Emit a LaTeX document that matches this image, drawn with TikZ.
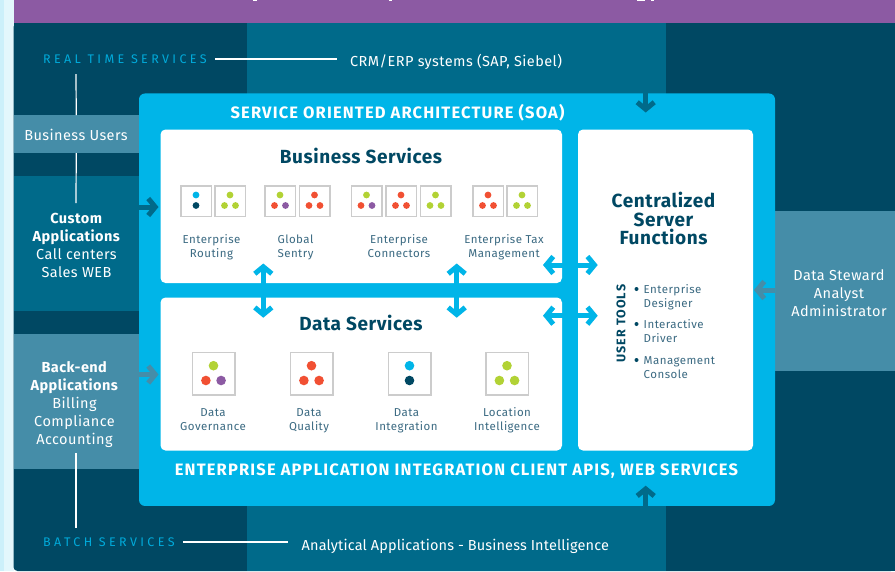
\documentclass[tikz,border=0pt]{standalone}
\usepackage{fontspec}
\usepackage{xcolor}
\usetikzlibrary{positioning}
\usetikzlibrary{arrows.meta}
\setmainfont{Fira Sans}
\definecolor{navy}{HTML}{004863}
\definecolor{teal}{HTML}{006A8A}
\definecolor{pale}{HTML}{458DA8}
\definecolor{sky}{HTML}{00B5E8}
\definecolor{plum}{HTML}{8C5AA3}
\definecolor{lime}{HTML}{B2D235}
\definecolor{coral}{HTML}{F15033}
\definecolor{frame}{HTML}{CCCCCC}
\definecolor{slate}{HTML}{3B6A82}
\tikzset{
    band/.style = {inner sep=0pt, outer sep=0pt, fill=#1},
    panel/.style = {inner sep=0pt, outer sep=0pt, fill=white, rounded corners=5pt},
    iconbox/.style = {inner sep=0pt, outer sep=0pt, draw=frame, fill=white, line width=1.5pt, minimum size=#1},
    dot/.style = {circle, inner sep=0pt, fill=#1},
    caption/.style = {align=center, font=\fontsize{11.5}{14}\selectfont\addfontfeature{LetterSpace=4}, text=slate, inner sep=0pt},
    side/.style = {align=center, font=\fontsize{14.5}{18}\selectfont\addfontfeature{LetterSpace=3}, text=white, inner sep=0pt},
    heading/.style = {font=\fontsize{16.5}{19}\selectfont\bfseries\addfontfeature{LetterSpace=7}, text=white, inner sep=0pt},
    paneltitle/.style = {font=\fontsize{19}{18.5}\selectfont\bfseries\addfontfeature{LetterSpace=3}, text=navy, align=center, inner sep=0pt},
    tier/.style = {anchor=west, inner sep=0pt, text=sky!85!teal, font=\fontsize{12.5}{14}\selectfont\addfontfeature{LetterSpace=27}},
    wire/.style = {draw=white, line width=1.2pt},
    flow/.style = {line width=5pt, draw=#1, -{Straight Barb[length=7pt,width=17pt]}},
    flowboth/.style = {line width=5pt, draw=sky, {Straight Barb[length=7pt,width=17pt]}-{Straight Barb[length=7pt,width=17pt]}}
}
% small icon: name, centre x, colours
\newcommand{\trismall}[5]{
    \node [iconbox=30.5pt] (#1) at (#2, 201) {};
    \node [dot=#3, minimum size=6.8pt] (#1a) at (#2, 195) {};
    \node [dot=#4, minimum size=6.8pt] (#1b) at (#2-5.5, 205.5) {};
    \node [dot=#5, minimum size=6.8pt] (#1c) at (#2+5.5, 205.5) {};
}
% large icon
\newcommand{\trilarge}[5]{
    \node [iconbox=42.5pt] (#1) at (#2, 373.7) {};
    \node [dot=#3, minimum size=9.6pt] (#1a) at (#2, 365.7) {};
    \node [dot=#4, minimum size=9.6pt] (#1b) at (#2-7.6, 380.5) {};
    \node [dot=#5, minimum size=9.6pt] (#1c) at (#2+7.6, 380.5) {};
}
\begin{document}
\begin{tikzpicture}[x=1pt, y=-1pt]
    \useasboundingbox (0, 0) rectangle (895, 571);
    % page and bands
    \fill [color=white] (0, 0) rectangle (895, 571);
    \fill [color=sky!20] (0, 0) rectangle (3.5, 571);
    \fill [color=sky!11] (3.5, 0) rectangle (13.5, 571);
    \fill [color=navy, rounded corners=4pt] (13.5, 23) rectangle (895, 571);
    \fill [color=navy] (13.5, 23) rectangle (895, 560);
    \fill [color=navy] (100, 500) rectangle (895, 571);
    \fill [color=plum] (13.5, 0) rectangle (895, 23);
    \fill [color=white] (253, 0) rectangle (257, 1);
    \fill [color=white] (388.5, 0) rectangle (392, 1);
    \fill [color=white] (637, 0) rectangle (644.5, 1.2);
    \fill [color=white] (651, 0) rectangle (654, 1.2);
    \fill [color=teal] (247, 23) rectangle (666, 571);
    \node [band=teal, minimum width=125.5pt, minimum height=135pt] (custom) at (76.25, 243.5) {};
    \node [band=pale, minimum width=125.5pt, minimum height=38pt] (users) at (76.25, 134) {};
    \node [band=pale, minimum width=125.5pt, minimum height=135pt] (backend) at (76.25, 401.5) {};
    \node [band=pale, minimum width=120pt, minimum height=160pt] (steward) at (835, 291) {};
    % main panels
    \node [band=sky, rounded corners=6pt, minimum width=636pt, minimum height=412.5pt] (soa) at (457, 299.7) {};
    \node [panel, minimum width=401.5pt, minimum height=153.5pt] (business) at (361.25, 206.25) {};
    \node [panel, minimum width=401.5pt, minimum height=153pt] (data) at (361.25, 374) {};
    \node [panel, minimum width=175pt, minimum height=321pt] (central) at (665.5, 290) {};
    % side texts
    \node [side] (userstext) at (76, 135) {Business Users};
    \node [side] (customtext) at (76.5, 245) {\textbf{Custom}\\\textbf{Applications}\\Call centers\\Sales WEB};
    \node [side] (backendtext) at (74.5, 405) {\textbf{Back-end}\\\textbf{Applications}\\Billing\\Compliance\\Accounting};
    \node [side] (stewardtext) at (839, 293) {Data Steward\\Analyst\\Administrator};
    \node [side, anchor=west] (crm) at (350, 62) {CRM/ERP systems (SAP, Siebel)};
    \node [side, anchor=west, font=\fontsize{14.5}{18}\selectfont\addfontfeature{LetterSpace=1}] (analytical) at (301.5, 546.5) {Analytical Applications - Business Intelligence};
    \node [tier] (realtime) at (43, 59) {REAL TIME SERVICES};
    \node [tier] (batch) at (43, 542) {BATCH SERVICES};
    % panel titles
    \node [heading] (soatitle) at (397.5, 112.5) {SERVICE ORIENTED ARCHITECTURE (SOA)};
    \node [heading] (eaititle) at (456.5, 471) {ENTERPRISE APPLICATION INTEGRATION CLIENT APIS, WEB SERVICES};
    \node [paneltitle] (bustitle) at (361, 155.8) {Business Services};
    \node [paneltitle] (datatitle) at (361, 322.8) {Data Services};
    \node [paneltitle] (centraltitle) at (663.5, 218.5) {Centralized\\Server\\Functions};
    % business icons
    \node [iconbox=30.5pt] (routingbox) at (196, 201) {};
    \node [dot=sky, minimum size=6.8pt] (routinga) at (196, 195) {};
    \node [dot=navy, minimum size=6.8pt] (routingb) at (196, 205.5) {};
    \trismall{routingtwo}{230}{lime}{lime}{lime}
    \trismall{sentryone}{280}{lime}{coral}{plum}
    \trismall{sentrytwo}{314.5}{coral}{coral}{coral}
    \trismall{connone}{366.5}{lime}{coral}{plum}
    \trismall{conntwo}{401}{coral}{coral}{coral}
    \trismall{connthree}{435.5}{lime}{lime}{lime}
    \trismall{taxone}{488}{coral}{coral}{coral}
    \trismall{taxtwo}{522}{lime}{lime}{lime}
    \node [caption] (routingcap) at (211.5, 247) {Enterprise\\Routing};
    \node [caption] (sentrycap) at (295.5, 247) {Global\\Sentry};
    \node [caption] (conncap) at (399, 246) {Enterprise\\Connectors};
    \node [caption] (taxcap) at (504, 247) {Enterprise Tax\\Management};
    % data icons
    \trilarge{governance}{213.5}{lime}{coral}{plum}
    \trilarge{quality}{311.5}{coral}{coral}{coral}
    \node [iconbox=42.5pt] (integration) at (409.5, 373.7) {};
    \node [dot=sky, minimum size=9.6pt] (integrationa) at (409.5, 365.7) {};
    \node [dot=navy, minimum size=9.6pt] (integrationb) at (409.5, 380.5) {};
    \trilarge{location}{507}{lime}{lime}{lime}
    \node [caption] (govcap) at (213, 420) {Data\\Governance};
    \node [caption] (qualcap) at (309, 420.5) {Data\\Quality};
    \node [caption] (intcap) at (406.5, 420.5) {Data\\Integration};
    \node [caption] (loccap) at (507, 420) {Location\\Intelligence};
    % user tools
    \node [font=\fontsize{12.5}{14}\selectfont\bfseries\addfontfeature{LetterSpace=8}, text=navy, rotate=90, inner sep=0pt] (usertools) at (621, 323.5) {USER TOOLS};
    \node [caption, align=left, anchor=north west] (tools) at (643.5, 284) {Enterprise\\Designer\\[7.5pt]Interactive\\Driver\\[7.5pt]Management\\Console};
    \node [dot=navy, minimum size=4pt] (bulleta) at (636.5, 289) {};
    \node [dot=navy, minimum size=4pt] (bulletb) at (636.5, 324) {};
    \node [dot=navy, minimum size=4pt] (bulletc) at (636.5, 360) {};
    % connector ends
    \coordinate (rtdrop) at (76, 74);
    \coordinate (customdrop) at (76, 203);
    \coordinate (backdrop) at (76, 453);
    \coordinate (batchrise) at (76, 527.7);
    \coordinate (customtip) at (158.5, 207);
    \coordinate (backtip) at (158.5, 374.5);
    \coordinate (stewardtip) at (754, 290);
    \coordinate (toptip) at (645.7, 112.5);
    \coordinate (toptail) at (645.7, 93);
    \coordinate (bottomtip) at (645.7, 485.7);
    \coordinate (bottomtail) at (645.7, 506);
    \coordinate (vonea) at (263.3, 263.5);
    \coordinate (voneb) at (263.3, 317.7);
    \coordinate (vtwoa) at (456.7, 263.5);
    \coordinate (vtwob) at (456.7, 317.7);
    \coordinate (hup) at (543, 265);
    \coordinate (hupb) at (597.7, 265);
    \coordinate (hlow) at (543, 315.7);
    \coordinate (hlowb) at (597.7, 315.7);
    % connectors
    \draw [wire, shorten <=8pt, shorten >=13pt] (realtime.east) -- (realtime.east -| crm.west);
    \draw [wire, shorten <=8pt, shorten >=14pt] (batch.east) -- (batch.east -| analytical.west);
    \draw [wire] (rtdrop) -- (users.north);
    \draw [wire] (users.south) -- (customdrop);
    \draw [wire] (backdrop) -- (batchrise);
    \draw [flow=teal] (customtip -| custom.east) -- (customtip);
    \draw [flow=pale] (backtip -| backend.east) -- (backtip);
    \draw [flow=pale] (stewardtip -| steward.west) -- (stewardtip);
    \draw [flow=teal] (toptail) -- (toptip);
    \draw [flow=teal] (bottomtail) -- (bottomtip);
    \draw [flowboth] (vonea) -- (voneb);
    \draw [flowboth] (vtwoa) -- (vtwob);
    \draw [flowboth] (hup) -- (hupb);
    \draw [flowboth] (hlow) -- (hlowb);
\end{tikzpicture}
\end{document}
